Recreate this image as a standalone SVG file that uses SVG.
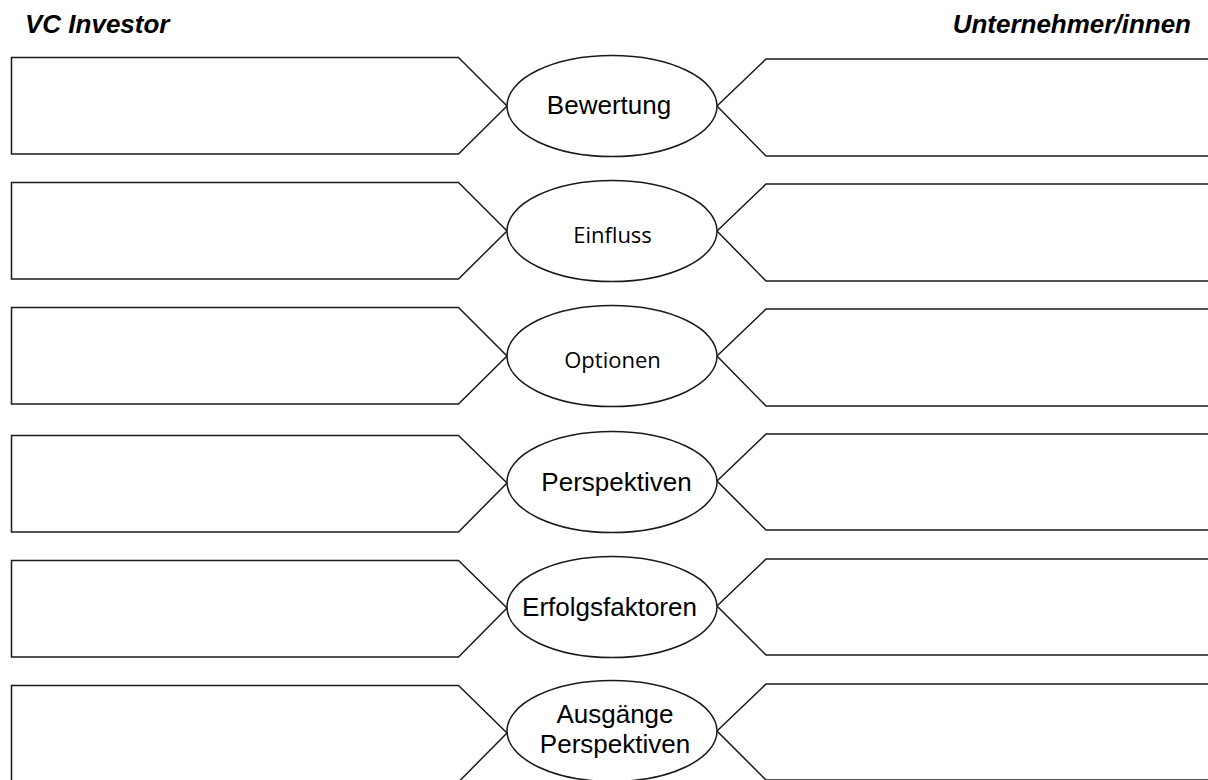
<svg xmlns="http://www.w3.org/2000/svg" width="1208" height="780" viewBox="0 0 1208 780">
<style>
.sh{fill:#fff;stroke:#1a1a1a;stroke-width:1.5;stroke-linejoin:miter}
.el{fill:#fff;stroke:#1a1a1a;stroke-width:1.5}
.t{font-family:"Liberation Sans",Arial,sans-serif;font-size:26px;fill:#000;text-anchor:middle}
.c{font-family:"Open Sans","Noto Sans",sans-serif;font-size:22px;fill:#000;text-anchor:middle}
.h{font-family:"Liberation Sans",Arial,sans-serif;font-size:26px;font-weight:bold;font-style:italic;fill:#000}
</style>
<rect width="1208" height="780" fill="#fff"/>
<g id="titles">
<text class="h" x="25" y="33">VC Investor</text>
<text class="h" x="1191" y="33" text-anchor="end">Unternehmer/innen</text>
</g>
<g id="row1">
<polygon id="left1" class="sh" points="11.5,57.5 458.5,57.5 507,106 458.5,154 11.5,154"/>
<polygon id="right1" class="sh" points="1215,59 766,59 717,106 766,156 1215,156"/>
<ellipse id="oval1" class="el" cx="612" cy="106" rx="105" ry="50.5"/>
<text class="t" x="609" y="114">Bewertung</text>
</g>
<g id="row2">
<polygon id="left2" class="sh" points="11.5,182.5 458.5,182.5 507,231 458.5,279 11.5,279"/>
<polygon id="right2" class="sh" points="1215,184 766,184 717,231 766,281 1215,281"/>
<ellipse id="oval2" class="el" cx="612" cy="231" rx="105" ry="50.5"/>
<text class="c" x="612.5" y="243">Einfluss</text>
</g>
<g id="row3">
<polygon id="left3" class="sh" points="11.5,307.5 458.5,307.5 507,356 458.5,404 11.5,404"/>
<polygon id="right3" class="sh" points="1215,309 766,309 717,356 766,406 1215,406"/>
<ellipse id="oval3" class="el" cx="612" cy="356" rx="105" ry="50.5"/>
<text class="c" x="612.5" y="368">Optionen</text>
</g>
<g id="row4">
<polygon id="left4" class="sh" points="11.5,435.5 458.5,435.5 507,483 458.5,532 11.5,532"/>
<polygon id="right4" class="sh" points="1215,434 766,434 717,481 766,530 1215,530"/>
<ellipse id="oval4" class="el" cx="612" cy="482" rx="105" ry="50.5"/>
<text class="t" x="616.5" y="491">Perspektiven</text>
</g>
<g id="row5">
<polygon id="left5" class="sh" points="11.5,560.5 458.5,560.5 507,608 458.5,657 11.5,657"/>
<polygon id="right5" class="sh" points="1215,559 766,559 717,606 766,655 1215,655"/>
<ellipse id="oval5" class="el" cx="612" cy="607" rx="105" ry="50.5"/>
<text class="t" x="609.5" y="616">Erfolgsfaktoren</text>
</g>
<g id="row6">
<polygon id="left6" class="sh" points="11.5,685.5 458.5,685.5 507,733 458.5,782 11.5,782"/>
<polygon id="right6" class="sh" points="1215,684 766,684 717,731 766,780 1215,780"/>
<ellipse id="oval6" class="el" cx="612" cy="731" rx="105" ry="50.5"/>
<text class="t" x="615" y="723">Ausgänge</text>
<text class="t" x="615" y="753">Perspektiven</text>
</g>
</svg>
